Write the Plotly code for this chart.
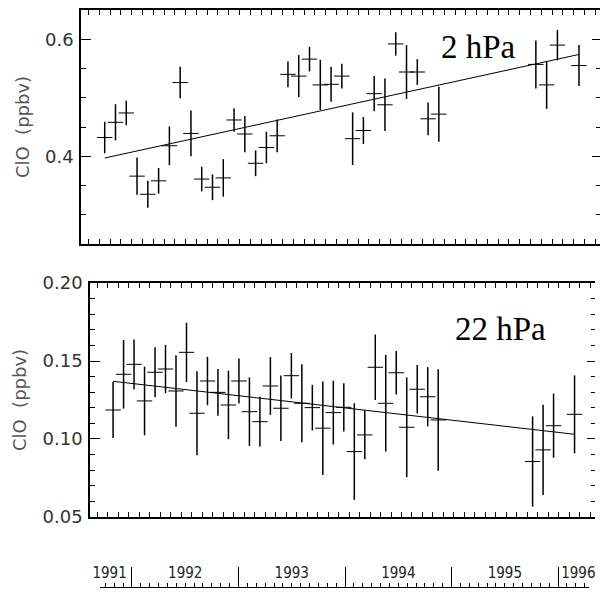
import plotly.graph_objects as go

# ---- data (x = UARS period index, points at period centres) ----
period = [0.5, 1.5, 2.5, 3.5, 4.5, 5.5, 6.5, 7.5, 8.5, 9.5, 10.5, 11.5, 12.5, 13.5,
          14.5, 15.5, 16.5, 17.5, 18.5, 19.5, 20.5, 21.5, 22.5, 23.5, 24.5, 25.5,
          26.5, 27.5, 28.5, 29.5, 30.5, 31.5, 40.5, 41.5, 42.5, 44.5]

clo_2hpa = [0.432, 0.458, 0.474, 0.366, 0.335, 0.358, 0.418, 0.526, 0.439, 0.361,
            0.347, 0.363, 0.462, 0.438, 0.388, 0.415, 0.435, 0.540, 0.537, 0.566,
            0.522, 0.523, 0.537, 0.430, 0.444, 0.507, 0.488, 0.592, 0.544, 0.544,
            0.464, 0.472, 0.557, 0.522, 0.590, 0.555]
err_2hpa = [0.027, 0.031, 0.021, 0.032, 0.023, 0.022, 0.033, 0.027, 0.039, 0.021,
            0.022, 0.032, 0.020, 0.031, 0.022, 0.027, 0.028, 0.022, 0.036, 0.021,
            0.043, 0.030, 0.021, 0.045, 0.023, 0.030, 0.045, 0.020, 0.046, 0.022,
            0.028, 0.047, 0.041, 0.041, 0.026, 0.035]

clo_22hpa = [0.1186, 0.1415, 0.1479, 0.1244, 0.1428, 0.1449, 0.1308, 0.1556, 0.1165,
             0.1372, 0.1299, 0.1218, 0.1372, 0.1175, 0.1111, 0.1340, 0.1197, 0.1406,
             0.1229, 0.1201, 0.1069, 0.1169, 0.1203, 0.0919, 0.1026, 0.1460, 0.1229,
             0.1425, 0.1075, 0.1319, 0.1271, 0.1122, 0.0855, 0.0930, 0.1085, 0.1158]
err_22hpa = [0.018, 0.022, 0.016, 0.022, 0.016, 0.0155, 0.023, 0.019, 0.027, 0.0155,
             0.015, 0.022, 0.0145, 0.022, 0.016, 0.0185, 0.021, 0.0146, 0.025, 0.0146,
             0.030, 0.0205, 0.0155, 0.031, 0.0157, 0.021, 0.031, 0.0139, 0.032, 0.0155,
             0.019, 0.0326, 0.029, 0.029, 0.0206, 0.025]

trend_x = [0.5, 44.5]
trend_2hpa = [0.397, 0.574]
trend_22hpa = [0.137, 0.103]

# calendar strip
year_bounds = [1992, 1993, 1994, 1995, 1996]
year_labels = ["1991", "1992", "1993", "1994", "1995", "1996"]
year_label_pos = [1991.79, 1992.5, 1993.5, 1994.5, 1995.5, 1996.19]

W, H = 603, 594
def px(x):
    return x / W
def py(y):
    return 1 - y / H

tick_font = dict(family="DejaVu Sans", size=18, color="#333333")
title_font = dict(family="DejaVu Sans", size=18, color="#555555")

fig = go.Figure()

def add_panel(xa, ya, ya_right, yv, ev, trend):
    fig.add_trace(go.Scatter(
        x=period, y=yv, mode="markers", xaxis=xa, yaxis=ya,
        marker=dict(symbol="line-ew", size=11, color="black",
                    line=dict(width=1, color="black")),
        error_y=dict(type="data", array=ev, visible=True, color="black",
                     thickness=1.5, width=0),
        hoverinfo="skip", showlegend=False))
    fig.add_trace(go.Scatter(
        x=trend_x, y=trend, mode="lines", xaxis=xa, yaxis=ya,
        line=dict(color="black", width=1), hoverinfo="skip", showlegend=False))
    # invisible copy so that the right-hand tick axis is drawn
    fig.add_trace(go.Scatter(
        x=period, y=yv, mode="markers", xaxis=xa, yaxis=ya_right,
        marker=dict(size=1, opacity=0), hoverinfo="skip", showlegend=False))

add_panel("x", "y", "y5", clo_2hpa, err_2hpa, trend_2hpa)
add_panel("x2", "y2", "y6", clo_22hpa, err_22hpa, trend_22hpa)

# invisible carriers for the calendar strip axes
fig.add_trace(go.Scatter(x=year_bounds, y=[0.5] * len(year_bounds), xaxis="x3", yaxis="y3",
                         mode="markers", marker=dict(size=1, opacity=0),
                         hoverinfo="skip", showlegend=False))
fig.add_trace(go.Scatter(x=year_label_pos, y=[0.5] * len(year_label_pos), xaxis="x4", yaxis="y3",
                         mode="markers", marker=dict(size=1, opacity=0),
                         hoverinfo="skip", showlegend=False))

xrange = [-1.7, 46.45]
common_x = dict(range=xrange, tick0=0, dtick=1, ticks="inside", ticklen=5,
                tickcolor="black", showticklabels=False, showline=True,
                linecolor="black", linewidth=1.5, mirror="ticks",
                showgrid=False, zeroline=False, automargin=False)
common_y = dict(ticks="inside", ticklen=10, tickcolor="black", showline=True,
                linecolor="black", linewidth=1.5, showgrid=False, zeroline=False,
                tickfont=tick_font, ticklabelstandoff=2, automargin=False)

fig.update_layout(
    width=W, height=H, margin=dict(l=0, r=0, t=0, b=0),
    paper_bgcolor="white", plot_bgcolor="white", showlegend=False,
    xaxis=dict(domain=[px(81), px(600)], anchor="y", **common_x),
    yaxis=dict(domain=[py(244), py(10)], anchor="x", range=[0.25, 0.65],
               tick0=0, dtick=0.2, tickformat=".1f",
               minor=dict(dtick=0.05, tick0=0, ticks="inside", ticklen=5, tickcolor="black"),
               title=dict(text="ClO  (ppbv)", font=title_font, standoff=11),
               **common_y),
    xaxis2=dict(domain=[px(90), px(595)], anchor="y2", **common_x),
    yaxis2=dict(domain=[py(517), py(283)], anchor="x2", range=[0.0499, 0.2001],
                tick0=0, dtick=0.05, tickformat=".2f",
                minor=dict(dtick=0.01, tick0=0, ticks="inside", ticklen=5, tickcolor="black"),
                title=dict(text="ClO  (ppbv)", font=title_font, standoff=11),
                **common_y),
    yaxis5=dict(overlaying="y", side="right", anchor="x", range=[0.25, 0.65],
                tick0=0, dtick=0.2, ticks="inside", ticklen=8, tickcolor="black",
                minor=dict(dtick=0.05, tick0=0, ticks="inside", ticklen=4, tickcolor="black"),
                showticklabels=False, showline=False, showgrid=False, zeroline=False,
                automargin=False),
    yaxis6=dict(overlaying="y2", side="right", anchor="x2", range=[0.0499, 0.2001],
                tick0=0, dtick=0.05, ticks="inside", ticklen=8, tickcolor="black",
                minor=dict(dtick=0.01, tick0=0, ticks="inside", ticklen=4, tickcolor="black"),
                showticklabels=False, showline=False, showgrid=False, zeroline=False,
                automargin=False),
    xaxis3=dict(domain=[px(100), px(589)], anchor="y3", range=[1991.70, 1996.29],
                tickmode="array", tickvals=year_bounds, ticks="inside", ticklen=20,
                tickwidth=1.3, tickcolor="black",
                minor=dict(dtick=1/12, tick0=1992, ticks="inside", ticklen=4,
                           tickcolor="black", tickwidth=1),
                showticklabels=False, showline=True, linecolor="black", linewidth=1,
                showgrid=False, zeroline=False, automargin=False),
    yaxis3=dict(domain=[py(587), py(582)], anchor="x3", range=[0, 1], visible=False,
                automargin=False),
    xaxis4=dict(overlaying="x3", anchor="y3", side="top", range=[1991.70, 1996.29],
                tickmode="array", tickvals=year_label_pos, ticktext=year_labels,
                ticks="", showline=False, showgrid=False, zeroline=False,
                automargin=False,
                tickfont=dict(family="Liberation Sans Narrow, DejaVu Sans Condensed, Liberation Sans",
                              size=15, color="#222222")),
)

fig.add_annotation(text="2 hPa", x=35.2, y=0.586, xref="x", yref="y",
                   showarrow=False, xanchor="center", yanchor="middle",
                   font=dict(family="Liberation Serif", size=33, color="black"))
fig.add_annotation(text="22 hPa", x=37.4, y=0.1704, xref="x2", yref="y2",
                   showarrow=False, xanchor="center", yanchor="middle",
                   font=dict(family="Liberation Serif", size=33, color="black"))

fig.write_html("out.html")
